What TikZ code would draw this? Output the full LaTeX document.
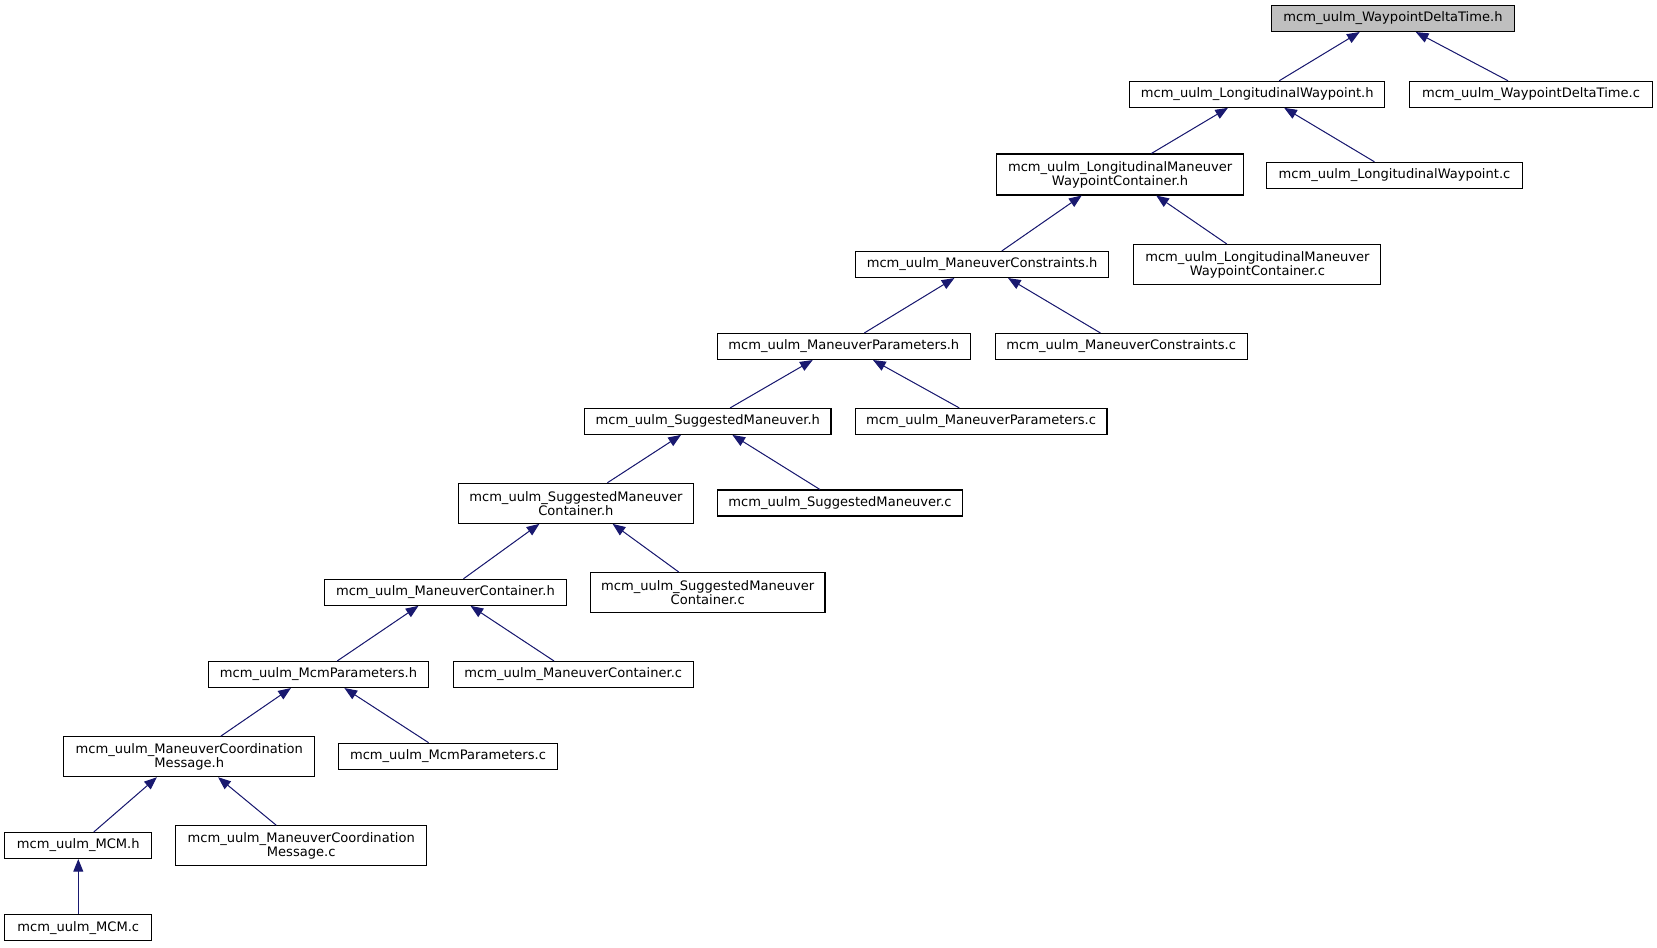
\documentclass[tikz,border=0pt]{standalone}
\usepackage{fontspec}
\setmainfont{DejaVu Sans}
\usetikzlibrary{arrows.meta,calc}
\definecolor{edgeblue}{HTML}{191970}
\definecolor{hdrgray}{HTML}{BFBFBF}
\tikzset{
  box/.style 2 args={draw=black, line width=0.8pt, fill=white, inner sep=0pt, align=center,
     minimum width=#1*0.75pt, minimum height=#2*0.75pt,
     font=\fontsize{9.8}{10.6}\selectfont},
  edge/.style={draw=edgeblue, line width=0.75pt, -{Triangle[length=9.5pt,width=7.5pt]}, fill=edgeblue}
}
\begin{document}
\begin{tikzpicture}[x=0.75pt,y=-0.75pt]
\useasboundingbox[fill=white] (0,0) rectangle (1657,947);
\node[box={243}{26}, fill=hdrgray] (wdth) at (1393,18.5) {mcm\_uulm\_WaypointDeltaTime.h};
\node[box={255.5}{26}] (lwh) at (1257.2,94.3) {mcm\_uulm\_LongitudinalWaypoint.h};
\node[box={243.5}{26}] (wdtc) at (1531,94.3) {mcm\_uulm\_WaypointDeltaTime.c};
\node[box={246.4}{41}] (lmwch) at (1120.1,174.5) {mcm\_uulm\_LongitudinalManeuver\\WaypointContainer.h};
\node[box={255.5}{26}] (lwc) at (1394.5,175.3) {mcm\_uulm\_LongitudinalWaypoint.c};
\node[box={253.6}{26}] (mch) at (982.1,264.5) {mcm\_uulm\_ManeuverConstraints.h};
\node[box={246.9}{40}] (lmwcc) at (1257.4,264.5) {mcm\_uulm\_LongitudinalManeuver\\WaypointContainer.c};
\node[box={253.3}{26}] (mph) at (843.8,346.5) {mcm\_uulm\_ManeuverParameters.h};
\node[box={252.3}{26}] (mcc) at (1121.2,346.5) {mcm\_uulm\_ManeuverConstraints.c};
\node[box={246.4}{26}] (smh) at (707.8,421.4) {mcm\_uulm\_SuggestedManeuver.h};
\node[box={251.8}{26}] (mpc) at (981.1,421.4) {mcm\_uulm\_ManeuverParameters.c};
\node[box={234.7}{40}] (smch) at (575.9,503.3) {mcm\_uulm\_SuggestedManeuver\\Container.h};
\node[box={245.5}{26}] (smc) at (840,503) {mcm\_uulm\_SuggestedManeuver.c};
\node[box={241.3}{26}] (manch) at (445.4,592.3) {mcm\_uulm\_ManeuverContainer.h};
\node[box={234.6}{40}] (smcc) at (707.7,592.5) {mcm\_uulm\_SuggestedManeuver\\Container.c};
\node[box={219.6}{26}] (mcmph) at (318.5,674.5) {mcm\_uulm\_McmParameters.h};
\node[box={240.2}{26}] (mancc) at (573.3,674.5) {mcm\_uulm\_ManeuverContainer.c};
\node[box={250.7}{40}] (mcmsgh) at (189.3,756.7) {mcm\_uulm\_ManeuverCoordination\\Message.h};
\node[box={218.5}{26}] (mcmpc) at (448,756.2) {mcm\_uulm\_McmParameters.c};
\node[box={147.3}{26}] (mcmh) at (78.3,845.5) {mcm\_uulm\_MCM.h};
\node[box={251}{40}] (mcmsgc) at (301.2,845.8) {mcm\_uulm\_ManeuverCoordination\\Message.c};
\node[box={147.3}{26}] (mcmc) at (78.3,927.8) {mcm\_uulm\_MCM.c};

\draw[edge] ($(lwh.north)+(22,0)$) -- ($(wdth.south)+(-33.3,0)$);
\draw[edge] ($(wdtc.north)+(-23,0)$) -- ($(wdth.south)+(22.8,0)$);
\draw[edge] ($(lmwch.north)+(31.3,0)$) -- ($(lwh.south)+(-29.2,0)$);
\draw[edge] ($(lwc.north)+(-20.1,0)$) -- ($(lwh.south)+(27,0)$);
\draw[edge] ($(mch.north)+(19.7,0)$) -- ($(lmwch.south)+(-38.4,0)$);
\draw[edge] ($(lmwcc.north)+(-30.6,0)$) -- ($(lmwch.south)+(36.1,0)$);
\draw[edge] ($(mph.north)+(20.5,0)$) -- ($(mch.south)+(-27.7,0)$);
\draw[edge] ($(mcc.north)+(-20.8,0)$) -- ($(mch.south)+(25.9,0)$);
\draw[edge] ($(smh.north)+(22.4,0)$) -- ($(mph.south)+(-31.1,0)$);
\draw[edge] ($(mpc.north)+(-21.9,0)$) -- ($(mph.south)+(29.2,0)$);
\draw[edge] ($(smch.north)+(31.5,0)$) -- ($(smh.south)+(-26.8,0)$);
\draw[edge] ($(smc.north)+(-20.1,0)$) -- ($(smh.south)+(24.6,0)$);
\draw[edge] ($(manch.north)+(18.1,0)$) -- ($(smch.south)+(-36.5,0)$);
\draw[edge] ($(smcc.north)+(-29,0)$) -- ($(smch.south)+(36.7,0)$);
\draw[edge] ($(mcmph.north)+(18.7,0)$) -- ($(manch.south)+(-26.9,0)$);
\draw[edge] ($(mancc.north)+(-19.3,0)$) -- ($(manch.south)+(25.1,0)$);
\draw[edge] ($(mcmsgh.north)+(31.5,0)$) -- ($(mcmph.south)+(-27.6,0)$);
\draw[edge] ($(mcmpc.north)+(-19.4,0)$) -- ($(mcmph.south)+(25.9,0)$);
\draw[edge] ($(mcmh.north)+(15.5,0)$) -- ($(mcmsgh.south)+(-32.4,0)$);
\draw[edge] ($(mcmsgc.north)+(-24.9,0)$) -- ($(mcmsgh.south)+(28.8,0)$);
\draw[edge] (mcmc.north) -- (mcmh.south);
\end{tikzpicture}
\end{document}
